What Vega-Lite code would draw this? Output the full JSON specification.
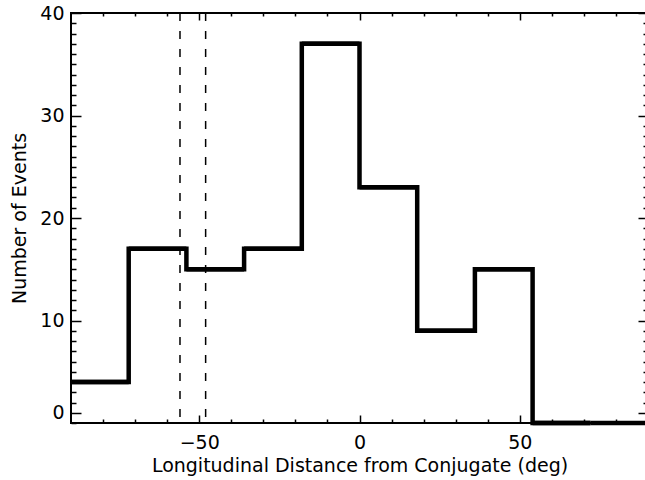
{
  "$schema": "https://vega.github.io/schema/vega-lite/v6.json",
  "width": 577,
  "height": 410,
  "autosize": {"type": "none"},
  "padding": {"left": 71, "top": 13, "right": -3, "bottom": 57},
  "background": "white",
  "config": {
    "view": {"stroke": "black", "strokeWidth": 2},
    "axis": {
      "labelFont": "DejaVu Sans",
      "labelFontSize": 19,
      "labelColor": "black",
      "titleFont": "DejaVu Sans",
      "titleFontSize": 19,
      "titleFontWeight": "normal",
      "titleColor": "black",
      "tickColor": "black",
      "tickWidth": 1.5,
      "grid": false,
      "domain": false
    }
  },
  "datasets": {
    "bins": [
      {"lo": -90, "hi": -72, "n": 4},
      {"lo": -72, "hi": -54, "n": 17},
      {"lo": -54, "hi": -36, "n": 15},
      {"lo": -36, "hi": -18, "n": 17},
      {"lo": -18, "hi": 0, "n": 37},
      {"lo": 0, "hi": 18, "n": 23},
      {"lo": 18, "hi": 36, "n": 9},
      {"lo": 36, "hi": 54, "n": 15},
      {"lo": 54, "hi": 72, "n": 0},
      {"lo": 72, "hi": 90, "n": 0}
    ],
    "markers": [
      {"pos": -56},
      {"pos": -48}
    ]
  },
  "resolve": {"axis": {"x": "independent", "y": "independent"}},
  "layer": [
    {
      "data": {"name": "bins"},
      "mark": {"type": "line", "interpolate": "step-after", "color": "black", "strokeWidth": 4.5, "strokeJoin": "miter", "clip": false},
      "encoding": {
        "x": {"field": "lo", "type": "quantitative",
              "scale": {"domain": [-90, 90], "nice": false, "zero": false},
              "axis": {"orient": "bottom", "values": [-50, 0, 50], "ticks": false, "labelPadding": 25, "labelBaseline": "alphabetic",
                       "title": "Longitudinal Distance from Conjugate (deg)", "titleBaseline": "alphabetic", "titleY": 48}},
        "y": {"field": "n", "type": "quantitative",
              "scale": {"domain": [0, 40], "nice": false, "zero": false},
              "axis": {"orient": "left", "values": [1, 10, 20, 30, 40], "ticks": false, "labelPadding": 7,
                       "labelExpr": "datum.value == 1 ? '0' : datum.label",
                       "title": "Number of Events", "titleBaseline": "alphabetic", "titleX": -46}}
      }
    },
    {
      "data": {"name": "bins"},
      "mark": {"type": "rule", "color": "black", "strokeWidth": 4.5},
      "encoding": {
        "x": {"field": "lo", "type": "quantitative",
              "axis": {"orient": "bottom", "values": [-50, 0, 50], "tickSize": -8, "labels": false, "title": null}},
        "x2": {"field": "hi"},
        "y": {"field": "n", "type": "quantitative",
              "axis": {"orient": "left", "values": [1, 10, 20, 30, 40], "tickSize": -10, "labels": false, "title": null}}
      }
    },
    {
      "data": {"name": "markers"},
      "mark": {"type": "rule", "color": "black", "strokeWidth": 1.5, "strokeDash": [8, 10]},
      "encoding": {
        "x": {"field": "pos", "type": "quantitative",
              "axis": {"orient": "bottom", "values": [-80, -70, -60, -40, -30, -20, -10, 10, 20, 30, 40, 60, 70, 80], "tickSize": -4, "labels": false, "title": null}}
      }
    },
    {
      "data": {"name": "bins"},
      "mark": {"type": "point", "opacity": 0},
      "encoding": {
        "x": {"field": "lo", "type": "quantitative",
              "axis": {"orient": "top", "values": [-50, 0, 50], "tickSize": -7, "labels": false, "title": null}},
        "y": {"field": "n", "type": "quantitative",
              "axis": {"orient": "right", "values": [1, 10, 20, 30, 40], "tickSize": -10, "labels": false, "title": null}}
      }
    },
    {
      "data": {"name": "bins"},
      "mark": {"type": "point", "opacity": 0},
      "encoding": {
        "x": {"field": "lo", "type": "quantitative",
              "axis": {"orient": "top", "values": [-80, -70, -60, -40, -30, -20, -10, 10, 20, 30, 40, 60, 70, 80], "tickSize": -3, "labels": false, "title": null}},
        "y": {"field": "n", "type": "quantitative",
              "axis": {"orient": "left", "values": [0, 2, 3, 4, 5, 6, 7, 8, 9, 11, 12, 13, 14, 15, 16, 17, 18, 19, 21, 22, 23, 24, 25, 26, 27, 28, 29, 31, 32, 33, 34, 35, 36, 37, 38, 39], "tickSize": -5, "labels": false, "title": null}}
      }
    },
    {
      "data": {"name": "bins"},
      "mark": {"type": "point", "opacity": 0},
      "encoding": {
        "x": {"field": "lo", "type": "quantitative", "axis": null},
        "y": {"field": "n", "type": "quantitative",
              "axis": {"orient": "right", "values": [0, 2, 3, 4, 5, 6, 7, 8, 9, 11, 12, 13, 14, 15, 16, 17, 18, 19, 21, 22, 23, 24, 25, 26, 27, 28, 29, 31, 32, 33, 34, 35, 36, 37, 38, 39], "tickSize": -5, "labels": false, "title": null}}
      }
    }
  ]
}
